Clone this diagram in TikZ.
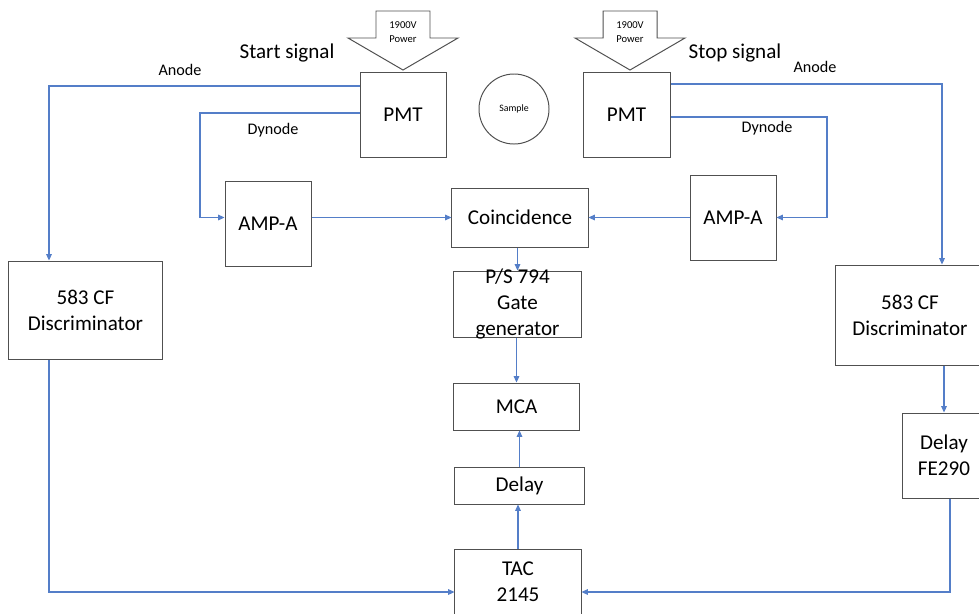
\documentclass[tikz,border=0pt]{standalone}
\usepackage{fontspec}
\setmainfont{Carlito}
\usetikzlibrary{arrows.meta}
\definecolor{sigblue}{RGB}{84,126,200}
\definecolor{boxgray}{RGB}{80,80,80}

\begin{document}
\begin{tikzpicture}[x=0.025cm,y=-0.025cm,
  box/.style={draw=boxgray,line width=0.7pt,inner sep=0pt,align=center,
    font=\fontsize{15}{18.5}\selectfont},
  txt/.style={inner sep=0pt,align=center,font=\fontsize{15}{18.5}\selectfont},
  sig/.style={draw=sigblue,line width=0.75pt,-{Triangle[length=4.5pt,width=4pt]}},
  lbl/.style={inner sep=0pt,font=\fontsize{11.5}{14}\selectfont},
  title/.style={inner sep=0pt,font=\fontsize{15}{18}\selectfont},
  pwr/.style={draw=boxgray,line width=0.7pt},
  tiny/.style={inner sep=0pt,align=center,font=\fontsize{7.5}{10.5}\selectfont}]
  \clip (0,0) rectangle (979,613);

  % detectors and sample
  \node[box,minimum width=2.15cm,minimum height=2.125cm] (pmtL) at (403,114.5) {PMT};
  \node[box,minimum width=2.175cm,minimum height=2.125cm] (pmtR) at (626.5,114.5) {PMT};
  \node[draw=boxgray,line width=0.7pt,circle,minimum size=1.75cm,inner sep=0pt,
    font=\fontsize{7}{8}\selectfont] (sample) at (514,109) {Sample};

  % high voltage
  \foreach \px/\s in {403/L,630/R}{
    \draw[pwr] ({\px-27},11) -- ({\px+27},11) -- ({\px+27},38) -- ({\px+55},38)
      -- (\px,70) -- ({\px-55},38) -- ({\px-27},38) -- cycle;
    \node[tiny] (pwr\s) at (\px,32) {1900V\\Power};
  }

  % modules
  \node[box,minimum width=2.15cm,minimum height=2.125cm] (ampL) at (268,223.5) {AMP-A};
  \node[box,minimum width=2.15cm,minimum height=2.125cm] (ampR) at (733,217.5) {AMP-A};
  \node[box,minimum width=3.4cm,minimum height=1.475cm] (coin) at (520,217.5) {Coincidence};
  \node[box,minimum width=3.175cm,minimum height=1.65cm] (gate) at (517.5,304) {};
  \node[txt] (gateTxt) at (gate.center) {P/S 794\\Gate\\generator};
  \node[box,minimum width=3.125cm,minimum height=1.175cm] (mca) at (516.5,406.5) {MCA};
  \node[box,minimum width=3.225cm,minimum height=0.925cm] (delay) at (519.5,485.5) {Delay};
  \node[box,minimum width=3.15cm,minimum height=1.65cm] (tac) at (518,582) {TAC\\2145};
  \node[box,minimum width=3.825cm,minimum height=2.45cm] (discL) at (85.5,310) {583 CF\\Discriminator};
  \node[box,minimum width=3.75cm,minimum height=2.5cm] (discR) at (910,315) {583 CF\\Discriminator};
  \node[box,minimum width=2.1cm,minimum height=2.125cm] (delayR) at (944,455.5) {Delay\\FE290};

  % labels
  \node[title] (startTxt) at (287,53) {Start signal};
  \node[title] (stopTxt) at (735,53) {Stop signal};
  \node[lbl] (anLTxt) at (180,70) {Anode};
  \node[lbl] (anRTxt) at (815,67) {Anode};
  \node[lbl] (dyLTxt) at (273,130) {Dynode};
  \node[lbl] (dyRTxt) at (767,128) {Dynode};

  % signal lines
  \coordinate (anL) at (49,86);
  \coordinate (dyL) at (200,113);
  \coordinate (anR) at (942,84);
  \coordinate (dyR) at (827,117);
  \coordinate (cnL) at (49,592);
  \coordinate (cnR) at (950,592);

  \draw[sig] (pmtL.west |- anL) -- (anL) -- (anL |- discL.north);
  \draw[sig] (pmtL.west |- dyL) -- (dyL) |- (ampL.west |- coin.west);
  \draw[sig] (ampL.east |- coin.west) -- (coin.west);
  \draw[sig] (pmtR.east |- anR) -- (anR) -- (anR |- discR.north);
  \draw[sig] (pmtR.east |- dyR) -- (dyR) |- (ampR.east |- coin.east);
  \draw[sig] (ampR.west |- coin.east) -- (coin.east);
  \draw[sig] (gate.north |- coin.south) -- (gate.north);
  \draw[sig] (mca.north |- gate.south) -- (mca.north);
  \draw[sig] (tac.north) -- (tac.north |- delay.south);
  \draw[sig] (delay.north) -- (delay.north |- mca.south);
  \draw[sig] (cnL |- discL.south) -- (cnL) -- (cnL -| tac.west);
  \draw[sig] (delayR.north |- discR.south) -- (delayR.north);
  \draw[sig] (cnR |- delayR.south) -- (cnR) -- (cnR -| tac.east);
\end{tikzpicture}
\end{document}
